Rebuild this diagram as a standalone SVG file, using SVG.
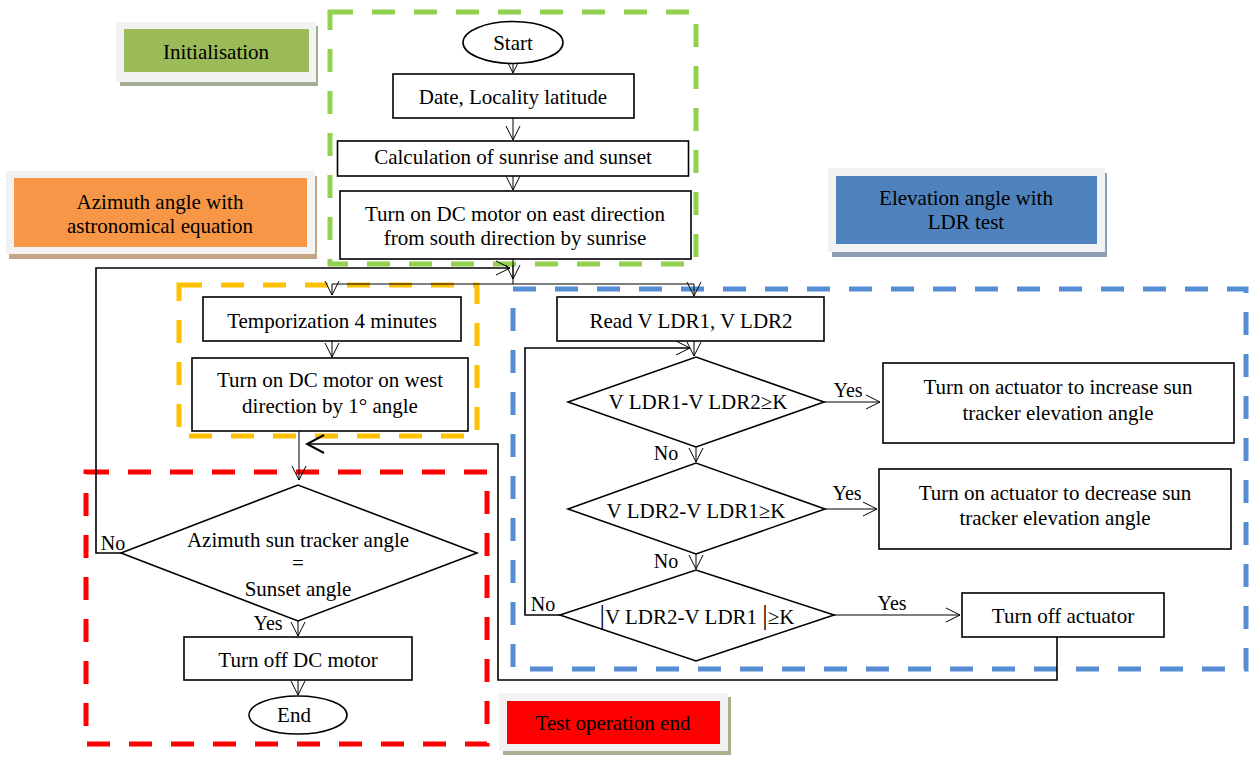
<svg xmlns="http://www.w3.org/2000/svg" width="1251" height="758" viewBox="0 0 1251 758">
<style>
.box{fill:#fff;stroke:#000;stroke-width:1.6}
.t{font-family:"Liberation Serif","Times New Roman",serif;font-size:21px;fill:#000;text-anchor:middle}
.yn{font-family:"Liberation Serif","Times New Roman",serif;font-size:20px;fill:#000;text-anchor:middle}
.c{fill:none;stroke:#000;stroke-width:1}
.ct{fill:none;stroke:#000;stroke-width:1.6}
.dash{fill:none;stroke-width:5;stroke-dasharray:23 19}
.frame{fill:#f2f2f2}
</style>
<defs>
<marker id="ah" viewBox="0 0 16 16" refX="15" refY="8" markerWidth="16" markerHeight="16" markerUnits="userSpaceOnUse" orient="auto"><path d="M1,1 L15,8 L1,15" fill="none" stroke="#000" stroke-width="1"/></marker>
<marker id="ahb" viewBox="0 0 20 20" refX="18" refY="10" markerWidth="20" markerHeight="20" markerUnits="userSpaceOnUse" orient="auto"><path d="M1,1 L18,10 L1,19" fill="none" stroke="#000" stroke-width="2"/></marker>
</defs>
<rect width="1251" height="758" fill="#fff"/>
<g id="regions">
<rect class="dash" x="330" y="12" width="366" height="252" stroke="#92d050"/>
<rect class="dash" x="179" y="285" width="298" height="151" stroke="#ffc000"/>
<rect class="dash" x="86" y="472" width="401" height="272" stroke="#ff0000"/>
<rect class="dash" x="513" y="289" width="733" height="380" stroke="#558ed5"/>
</g>
<g id="label-init">
<rect x="120" y="26" width="198" height="60" fill="#a3ad93"/>
<rect class="frame" x="116" y="22" width="200" height="60"/>
<rect x="124" y="29" width="185" height="43" fill="#9bbb59"/>
<text class="t" x="216" y="58.5">Initialisation</text>
</g>
<g id="label-azimuth">
<rect x="9" y="176" width="308" height="83" fill="#c4a484"/>
<rect class="frame" x="6" y="171" width="309" height="83"/>
<rect x="14" y="178" width="293" height="69" fill="#f79646"/>
<text class="t" x="160" y="208.5">Azimuth angle with</text>
<text class="t" x="160" y="233">astronomical equation</text>
</g>
<g id="label-elevation">
<rect x="832" y="173" width="275" height="84" fill="#8d9db3"/>
<rect class="frame" x="828" y="168" width="277" height="84"/>
<rect x="836" y="176" width="261" height="68" fill="#4f81bd"/>
<text class="t" x="966" y="205">Elevation angle with</text>
<text class="t" x="966" y="228.5">LDR test</text>
</g>
<g id="label-testend">
<rect x="503" y="697" width="228" height="58" fill="#a9b08f"/>
<rect class="frame" x="499" y="693" width="229" height="58"/>
<rect x="507" y="701" width="213" height="43" fill="#ff0000"/>
<text class="t" x="613" y="730">Test operation end</text>
</g>
<g id="connectors">
<path class="c" d="M513,64 V73" marker-end="url(#ah)"/>
<path class="c" d="M513,118 V140" marker-end="url(#ah)"/>
<path class="c" d="M513,176 V190" marker-end="url(#ah)"/>
<path class="c" d="M513,259 V284"/>
<path class="c" d="M513,265 V279" marker-end="url(#ah)"/>
<path class="c" d="M332,284 H694"/>
<path class="c" d="M332,284 V295" marker-end="url(#ah)"/>
<path class="c" d="M694,284 V296" marker-end="url(#ah)"/>
<path class="c" d="M332,341 V357" marker-end="url(#ah)"/>
<path class="c" d="M299,431 V480" marker-end="url(#ah)"/>
<path class="ct" d="M1057,637 V680 H498 V444 H307" marker-end="url(#ahb)"/>
<path class="ct" d="M121,553 H96 V268 H510" marker-end="url(#ah)"/>
<path class="c" d="M298,621 V636" marker-end="url(#ah)"/>
<path class="c" d="M298,680 V695" marker-end="url(#ah)"/>
<path class="c" d="M694,341 V356" marker-end="url(#ah)"/>
<path class="ct" d="M560,615 H525 V348 H690" marker-end="url(#ah)"/>
<path class="c" d="M824,402 H880" marker-end="url(#ah)"/>
<path class="c" d="M696,447 V462" marker-end="url(#ah)"/>
<path class="c" d="M825,509 H877" marker-end="url(#ah)"/>
<path class="c" d="M696,554 V569" marker-end="url(#ah)"/>
<path class="c" d="M834,615 H960" marker-end="url(#ah)"/>
<text class="yn" x="113" y="550">No</text>
<text class="yn" x="268" y="630">Yes</text>
<text class="yn" x="848" y="397">Yes</text>
<text class="yn" x="666" y="460">No</text>
<text class="yn" x="847" y="500">Yes</text>
<text class="yn" x="666" y="568">No</text>
<text class="yn" x="543" y="611">No</text>
<text class="yn" x="892" y="610">Yes</text>
</g>
<g id="start">
<ellipse class="box" cx="513" cy="42.5" rx="50" ry="21"/>
<text class="t" x="513" y="50">Start</text>
</g>
<g id="date">
<rect class="box" x="393" y="74" width="241" height="44"/>
<text class="t" x="513" y="104">Date, Locality latitude</text>
</g>
<g id="calc">
<rect class="box" x="337.5" y="141" width="351" height="35"/>
<text class="t" x="513" y="164">Calculation of sunrise and sunset</text>
</g>
<g id="east">
<rect class="box" x="340" y="191" width="351" height="68"/>
<text class="t" x="515" y="221">Turn on DC motor on east direction</text>
<text class="t" x="515" y="245">from south direction by sunrise</text>
</g>
<g id="temporization">
<rect class="box" x="203" y="297" width="258" height="44"/>
<text class="t" x="332" y="327.5">Temporization 4 minutes</text>
</g>
<g id="west">
<rect class="box" x="192" y="358" width="276" height="73"/>
<text class="t" x="330" y="387">Turn on DC motor on west</text>
<text class="t" x="330" y="412.5">direction by 1° angle</text>
</g>
<g id="azimuth-decision">
<polygon class="box" points="121,553 298,485 477,553 298,621"/>
<text class="t" x="298" y="547">Azimuth sun tracker angle</text>
<text class="t" x="298" y="570">=</text>
<text class="t" x="298" y="596">Sunset angle</text>
</g>
<g id="off-dc">
<rect class="box" x="184" y="637" width="228" height="43"/>
<text class="t" x="298" y="667">Turn off DC motor</text>
</g>
<g id="end">
<ellipse class="box" cx="298" cy="715" rx="49" ry="19"/>
<text class="t" x="294" y="722">End</text>
</g>
<g id="read">
<rect class="box" x="557" y="297" width="267" height="44"/>
<text class="t" x="691" y="327.5">Read V LDR1, V LDR2</text>
</g>
<g id="d1">
<polygon class="box" points="568,402 696,357 824,402 696,447"/>
<text class="t" x="698" y="409">V LDR1-V LDR2≥K</text>
</g>
<g id="increase">
<rect class="box" x="883" y="363" width="351" height="80"/>
<text class="t" x="1058" y="393.5">Turn on actuator to increase sun</text>
<text class="t" x="1058" y="420">tracker elevation angle</text>
</g>
<g id="d2">
<polygon class="box" points="568,509 696,463 825,509 696,554"/>
<text class="t" x="696" y="518">V LDR2-V LDR1≥K</text>
</g>
<g id="decrease">
<rect class="box" x="879" y="469" width="352" height="80"/>
<text class="t" x="1055" y="500">Turn on actuator to decrease sun</text>
<text class="t" x="1055" y="525">tracker elevation angle</text>
</g>
<g id="d3">
<polygon class="box" points="560,615 696,570 834,615 696,661"/>
<text class="t" x="697" y="623.5"><tspan font-size="27">|</tspan>V LDR2-V LDR1 <tspan font-size="27">|</tspan>≥K</text>
</g>
<g id="off-actuator">
<rect class="box" x="962" y="593" width="202" height="44"/>
<text class="t" x="1063" y="623">Turn off actuator</text>
</g>
</svg>
